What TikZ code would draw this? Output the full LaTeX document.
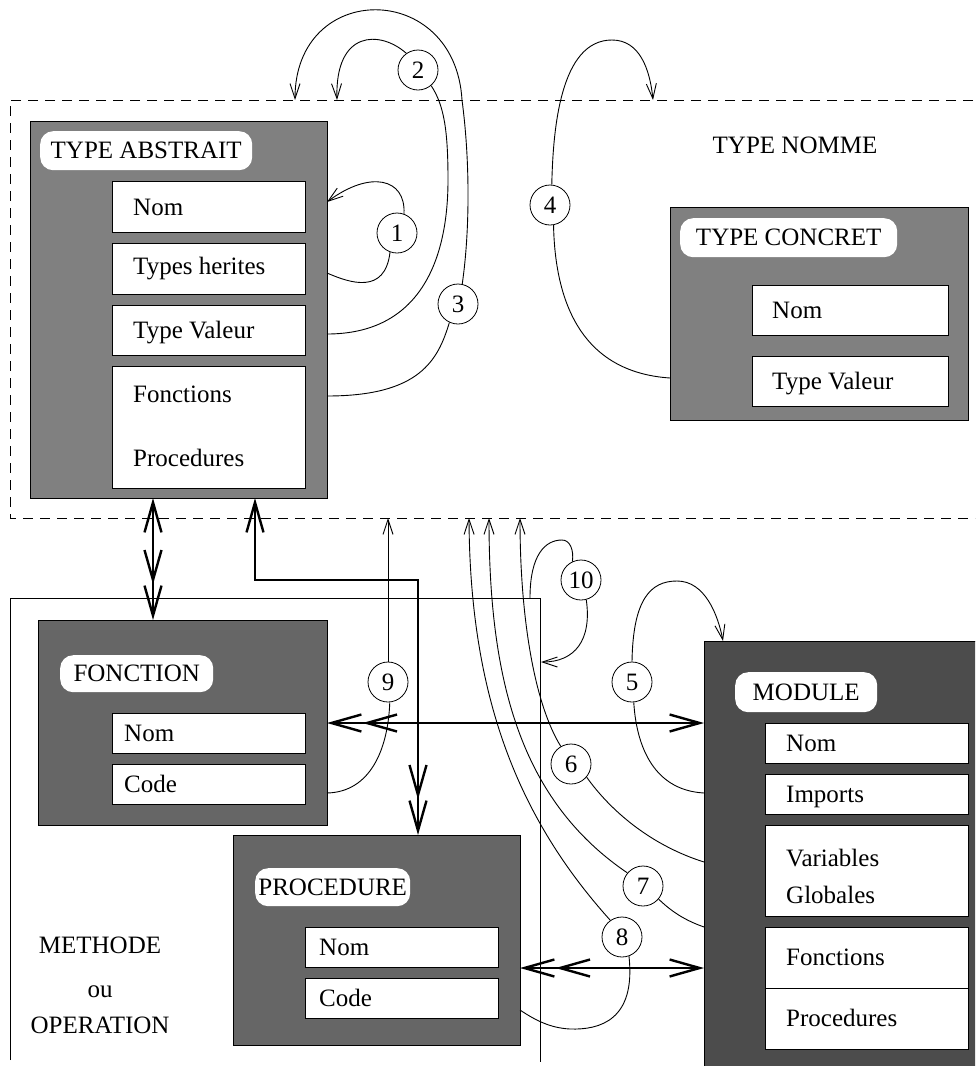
\documentclass[tikz,border=0pt]{standalone}
\usepackage{fontspec}
\setmainfont{Liberation Serif}
\usetikzlibrary{arrows.meta,calc}
\definecolor{gA}{gray}{0.5}
\definecolor{gF}{gray}{0.4}
\definecolor{gM}{gray}{0.3}
\tikzset{
  txt/.style={font=\fontsize{25}{29}\selectfont, inner sep=0pt, anchor=base west},
  panel/.style={draw=black, line width=0.8pt, anchor=north west, inner sep=0pt},
  field/.style={draw=black, fill=white, line width=0.8pt, anchor=north west, inner sep=0pt},
  tag/.style={fill=white, rounded corners=13pt, anchor=north west, inner sep=0pt, font=\fontsize{25}{29}\selectfont},
  num/.style={circle, draw, fill=white, line width=0.8pt, minimum size=40pt, inner sep=0pt, font=\fontsize{25}{29}\selectfont},
  conn/.style={line width=0.9pt},
  thinarrow/.style={line width=0.9pt, >={Straight Barb[length=15pt,width=10pt]}, ->},
  fatline/.style={line width=2.4pt, >={Straight Barb[length=30pt,width=17pt,sep=0pt]}},
}
\begin{document}
\begin{tikzpicture}[x=1pt,y=-1pt]
\useasboundingbox (0,0) rectangle (975,1066);
\clip (0,0) rectangle (975,1066);

% frames
\draw[line width=0.8pt, dash pattern=on 10pt off 7pt] (990,100) -- (10,100) -- (10,518) -- (990,518);
\draw[line width=0.8pt] (10,1060) -- (10,598) -- (540,598) -- (540,1062);

% TYPE ABSTRAIT
\node[panel, fill=gA, minimum width=297pt, minimum height=377pt] (ta) at (30,121) {};
\node[tag, minimum width=212pt, minimum height=39pt] (talab) at (40,131) {TYPE ABSTRAIT};
\node[field, minimum width=193pt, minimum height=51pt] (ta1) at (112,181) {};
\node[field, minimum width=193pt, minimum height=51pt] (ta2) at (112,243) {};
\node[field, minimum width=193pt, minimum height=50pt] (ta3) at (112,305) {};
\node[field, minimum width=193pt, minimum height=122pt] (ta4) at (112,366) {};
\node[txt] (ta1t) at (133,215) {Nom};
\node[txt] (ta2t) at (133,274) {Types herites};
\node[txt] (ta3t) at (133,338) {Type Valeur};
\node[txt] (ta4t) at (133,402) {Fonctions};
\node[txt] (ta4u) at (133,466) {Procedures};

% TYPE NOMME
\node[txt, anchor=base] (tn) at (795,153) {TYPE NOMME};

% TYPE CONCRET
\node[panel, fill=gA, minimum width=298pt, minimum height=213pt] (tc) at (670,207) {};
\node[tag, minimum width=217pt, minimum height=39pt] (tclab) at (680,218) {TYPE CONCRET};
\node[field, minimum width=196pt, minimum height=50pt] (tc1) at (752,285) {};
\node[field, minimum width=196pt, minimum height=50pt] (tc2) at (752,356) {};
\node[txt] (tc1t) at (772,318) {Nom};
\node[txt] (tc2t) at (772,389) {Type Valeur};

% FONCTION
\node[panel, fill=gF, minimum width=289pt, minimum height=205pt] (fn) at (38,620) {};
\node[tag, minimum width=153pt, minimum height=37pt] (fnlab) at (60,655) {FONCTION};
\node[field, minimum width=193pt, minimum height=40pt] (fn1) at (112,713) {};
\node[field, minimum width=193pt, minimum height=40pt] (fn2) at (112,764) {};
\node[txt] (fn1t) at (124,741) {Nom};
\node[txt] (fn2t) at (124,792) {Code};

% PROCEDURE
\node[panel, fill=gF, minimum width=287pt, minimum height=210pt] (pr) at (233,835) {};
\node[tag, minimum width=155pt, minimum height=38pt] (prlab) at (255,868) {PROCEDURE};
\node[field, minimum width=193pt, minimum height=40pt] (pr1) at (305,927) {};
\node[field, minimum width=193pt, minimum height=40pt] (pr2) at (305,978) {};
\node[txt] (pr1t) at (319,955) {Nom};
\node[txt] (pr2t) at (319,1006) {Code};

% MODULE
\node[panel, fill=gM, minimum width=300pt, minimum height=500pt] (md) at (704,641) {};
\node[tag, minimum width=142pt, minimum height=40pt] (mdlab) at (735,672) {MODULE};
\node[field, minimum width=203pt, minimum height=40pt] (md1) at (765,723) {};
\node[field, minimum width=203pt, minimum height=40pt] (md2) at (765,774) {};
\node[field, minimum width=203pt, minimum height=91pt] (md3) at (765,825) {};
\node[field, minimum width=203pt, minimum height=61pt] (md4) at (765,927) {};
\node[field, minimum width=203pt, minimum height=61pt] (md5) at (765,988) {};
\node[txt] (md1t) at (786,751) {Nom};
\node[txt] (md2t) at (786,802) {Imports};
\node[txt] (md3t) at (786,866) {Variables};
\node[txt] (md3u) at (786,903) {Globales};
\node[txt] (md4t) at (786,965) {Fonctions};
\node[txt] (md5t) at (786,1026) {Procedures};

% METHODE ou OPERATION
\node[txt, anchor=base] (me1) at (100,953) {METHODE};
\node[txt, anchor=base] (me2) at (100,997) {ou};
\node[txt, anchor=base] (me3) at (100,1033) {OPERATION};

% numbered circles
\node[num] (c1) at (397,233) {1};
\node[num] (c2) at (418,70) {2};
\node[num] (c3) at (458,304) {3};
\node[num] (c4) at (550,205) {4};
\node[num] (c5) at (632,682) {5};
\node[num] (c6) at (571,764) {6};
\node[num] (c7) at (643,886) {7};
\node[num] (c8) at (622,937) {8};
\node[num] (c9) at (388,682) {9};
\node[num] (c10) at (581,580) {10};

% connector end points
\coordinate (p1a) at (327,273);
\coordinate (p1b) at (327,202);
\coordinate (p2a) at (327,334);
\coordinate (p2b) at (337,100);
\coordinate (p3a) at (327,396);
\coordinate (p3b) at (295,100);
\coordinate (p4a) at (670,378);
\coordinate (p4b) at (653,100);
\coordinate (p5a) at (704,793);
\coordinate (p5b) at (723,641);
\coordinate (p6a) at (704,862);
\coordinate (p6b) at (520,518);
\coordinate (p7a) at (704,927);
\coordinate (p7b) at (489,518);
\coordinate (p8a) at (520,1010);
\coordinate (p8b) at (469,518);
\coordinate (p9a) at (327,793);
\coordinate (p9b) at (388,518);
\coordinate (p10a) at (530,598);
\coordinate (p10b) at (541,662);
\coordinate (pA1) at (153,498);
\coordinate (pA2) at (153,620);
\coordinate (pB1) at (255,498);
\coordinate (pB2) at (418,835);
\coordinate (pC1) at (327,723);
\coordinate (pC2) at (704,723);
\coordinate (pD1) at (520,968);
\coordinate (pD2) at (704,968);

% thin connectors
\draw[conn] (p1a) .. controls (350,283) and (385,295) .. (c1.250);
\draw[thinarrow] (c1.70) .. controls (406,178) and (370,170) .. (p1b);

\draw[conn] (p2a) .. controls (420,334) and (448,260) .. (448,180) .. controls (448,130) and (444,105) .. (c2.-50);
\draw[thinarrow] (c2.125) .. controls (380,30) and (335,30) .. (p2b);

\draw[conn] (p3a) .. controls (420,396) and (438,360) .. (c3.-115);
\draw[thinarrow] (c3.78) .. controls (470,230) and (470,160) .. (462,100) .. controls (455,-20) and (295,-20) .. (p3b);

\draw[conn] (p4a) .. controls (580,372) and (555,300) .. (c4.-80);
\draw[thinarrow] (c4.85) .. controls (553,130) and (560,40) .. (612,40) .. controls (640,40) and (650,70) .. (p4b);

\draw[conn] (p5a) .. controls (650,790) and (636,740) .. (c5.-85);
\draw[thinarrow] (c5.90) .. controls (633,600) and (650,581) .. (677,581) .. controls (705,581) and (718,615) .. (p5b);

\draw[conn] (c6.-40) .. controls (610,810) and (650,845) .. (p6a);
\draw[thinarrow] (c6.120) .. controls (535,705) and (520,620) .. (p6b);

\draw[conn] (c7.-40) .. controls (675,915) and (690,922) .. (p7a);
\draw[thinarrow] (c7.140) .. controls (520,800) and (489,680) .. (p7b);

\draw[conn] (c8.-70) .. controls (636,1020) and (600,1030) .. (570,1029) .. controls (550,1028) and (535,1020) .. (p8a);
\draw[thinarrow] (c8.125) .. controls (520,820) and (470,700) .. (p8b);

\draw[conn] (p9a) .. controls (370,792) and (388,750) .. (c9.-85);
\draw[thinarrow] (c9.north) -- (p9b);

\draw[conn] (p10a) .. controls (530,555) and (545,540) .. (562,540) .. controls (570,540) and (574,550) .. (c10.115);
\draw[thinarrow] (c10.-75) .. controls (592,640) and (575,662) .. (p10b);

% thick connectors
\draw[fatline,<->>] (pA1) -- (pA2);
\draw[fatline,<->>] (pB1) -- (255,580) -- (418,580) -- (pB2);
\draw[fatline,<<->] (pC1) -- (pC2);
\draw[fatline,<<->] (pD1) -- (pD2);
\end{tikzpicture}
\end{document}
